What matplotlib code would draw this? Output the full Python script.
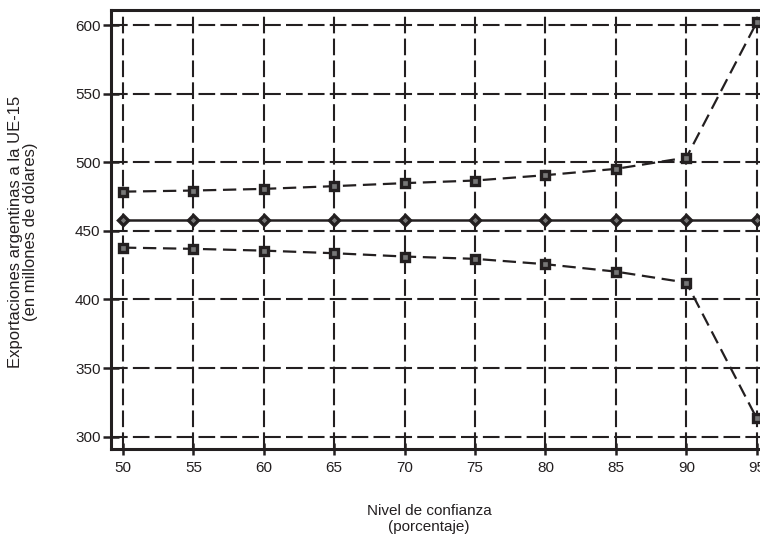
import matplotlib
matplotlib.use("Agg")
import matplotlib.pyplot as plt

plt.rcParams['font.family'] = ['Liberation Sans', 'DejaVu Sans']

nivel = [50, 55, 60, 65, 70, 75, 80, 85, 90, 95]
estimado = [458, 458, 458, 458, 458, 458, 458, 458, 458, 458]
superior = [478.6, 479.4, 480.6, 482.6, 484.8, 486.7, 490.6, 495.2, 503.4, 602]
inferior = [437.8, 436.9, 435.6, 433.7, 431.3, 429.6, 425.7, 420.3, 412.3, 313.3]
yticks = [300, 350, 400, 450, 500, 550, 600]

INK = '#231f20'

fig = plt.figure(figsize=(7.6, 5.37), dpi=100)
ax = fig.add_axes([111/760, 1-449/537, 1-111/760, (449-10)/537])

ax.set_xlim(49.15, 95.23)
ax.set_ylim(291, 611)

ax.plot(nivel, superior, color=INK, lw=1.6, dashes=(6, 3),
        marker='s', ms=5.5, mfc='#777777', mec=INK, mew=2.4, zorder=3, clip_on=False)
ax.plot(nivel, inferior, color=INK, lw=1.6, dashes=(6, 3),
        marker='s', ms=5.5, mfc='#777777', mec=INK, mew=2.4, zorder=3, clip_on=False)
ax.plot(nivel, estimado, color=INK, lw=1.8, linestyle='-',
        marker='D', ms=5.5, mfc='#777777', mec=INK, mew=2.4, zorder=3, clip_on=False)

ax.set_xticks(nivel)
ax.set_yticks(yticks)
ax.grid(True, color=INK, lw=1.5, dashes=(8, 2.5))
ax.set_axisbelow(True)

for s in ['left', 'bottom', 'top']:
    ax.spines[s].set_linewidth(2.2)
    ax.spines[s].set_color(INK)
ax.spines['right'].set_visible(False)

ax.tick_params(axis='x', direction='inout', length=9, width=1.8, color=INK,
               labelsize=11, pad=4, labelcolor=INK)
ax.tick_params(axis='y', direction='inout', length=11, width=1.8, color=INK,
               labelsize=11, pad=2, labelcolor=INK)

fig.text(429/760, 1-519/537, "Nivel de confianza\n(porcentaje)", ha='center', va='center',
         fontsize=11, color=INK, linespacing=1.1)
fig.text(23/760, 1-232/537, "Exportaciones argentinas a la UE-15\n(en millones de dólares)",
         ha='center', va='center', rotation=90, fontsize=12, color=INK, linespacing=1.0)

fig.savefig("out.png", dpi=100)
